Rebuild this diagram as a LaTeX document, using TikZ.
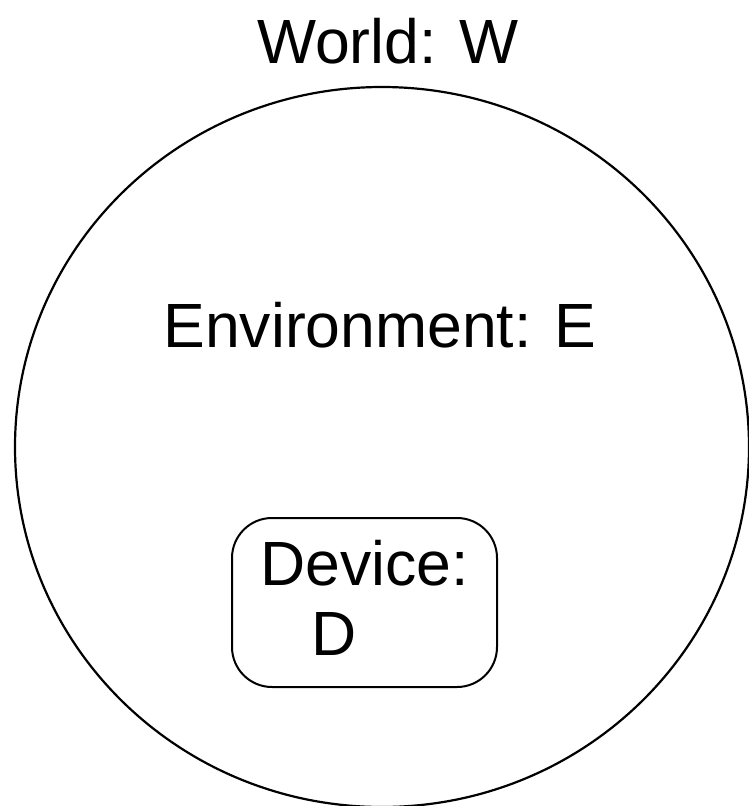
\documentclass[tikz,border=0pt]{standalone}
\usepackage{fontspec}
\setmainfont{Liberation Sans}
\begin{document}
\begin{tikzpicture}[x=1pt,y=-1pt,
  lbl/.style={inner sep=0pt,font=\fontsize{62.5}{70}\selectfont},
  devbox/.style={draw,line width=2pt,rounded corners=40pt,minimum width=265pt,minimum height=169pt,inner sep=0pt},
  world/.style={draw,line width=2.2pt}]
\useasboundingbox (0,0) rectangle (749,806);
\draw[world] (382,447) ellipse [x radius=367, y radius=360];
\node[lbl,anchor=base] (wtxt) at (388,63) {World: W};
\node[lbl,anchor=base] (etxt) at (380,347) {Environment: E};
\node[devbox] (dev) at (364.5,602.5) {};
\node[lbl,anchor=base west] (dtxt1) at (260,585) {Device:};
\node[lbl,anchor=base west] (dtxt2) at (311,655) {D};
\end{tikzpicture}
\end{document}
